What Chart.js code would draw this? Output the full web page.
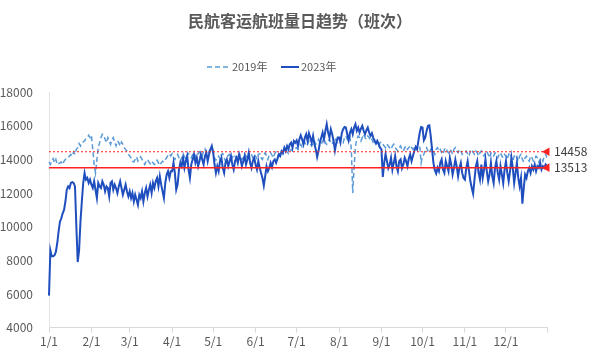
<!DOCTYPE html>
<html><head><meta charset="utf-8">
<script src="https://cdn.jsdelivr.net/npm/chart.js@4"></script>
<style>html,body{margin:0;padding:0;background:#fff}#wrap{width:600px;height:356px}</style>
</head><body><div id="wrap"><canvas id="c" width="600" height="356"></canvas></div>
<script>
const monthDays = [31,28,31,30,31,30,31,31,30,31,30,31];
const categories = [];
monthDays.forEach((n,m)=>{for(let d=1;d<=n;d++)categories.push((m+1)+'/'+d);});

const series2019 = [
// Jan
13850,13700,13900,14050,13800,14000,13700,13750,13800,13850,13700,13900,14000,14100,14150,14200,14300,14200,14450,14300,14600,14700,14940,14800,15000,15040,15100,15240,15300,15440,15300,
// Feb
15440,14600,13700,13200,14000,14700,15000,15300,15500,15440,15200,15000,15300,15100,14900,15200,15300,15000,14800,15100,15000,14800,15040,14900,14700,14600,14500,14300,
// Mar
14200,14100,13900,13850,14000,14150,13900,14000,14150,14000,13850,13700,13900,14000,13850,13750,13900,13800,13700,13750,13950,13800,13650,13800,13900,13850,14000,14100,14250,14340,14200,
// Apr
14340,14100,14000,14200,14300,14100,13900,14100,14300,14200,14000,14250,14350,14200,14100,14300,14400,14200,14100,14350,14450,14300,14200,14500,14640,14400,14300,14500,14600,14700,
// May
14500,14100,13950,14100,14200,14000,14300,14350,14100,13900,14100,14250,14300,14000,14100,14300,14200,13950,14150,14300,14250,14000,14100,14350,14200,14000,14200,14400,14300,14100,14300,
// Jun
14200,14000,14300,14350,14100,14000,14250,14400,14200,14000,14300,14400,14250,14100,14350,14450,14300,14200,14450,14500,14300,14400,14550,14450,14350,14500,14600,14500,14540,14650,
// Jul
14700,14600,14800,14900,14700,14940,15000,14800,14900,15100,14900,14800,15000,15100,14900,15000,15200,15000,14900,15100,15240,15000,14900,15100,15200,15000,14900,15100,15300,15100,15000,
// Aug
15200,15300,15100,15000,15300,15400,15200,15100,15300,14600,12000,13500,14800,15200,15400,15300,15100,15300,15500,15300,15200,15400,15300,15100,15200,15000,14900,15100,14900,14800,15000,
// Sep
15040,14900,14800,14700,14900,14800,14700,14600,14800,14900,14700,14600,14500,14700,14800,14600,14500,14700,14800,14600,14700,14840,14700,14600,14800,14700,14600,14740,14800,13800,
// Oct
14200,14300,14600,14700,14500,14400,14600,14700,14500,14300,14600,14700,14500,14600,14400,14300,14600,14700,14500,14400,14600,14500,14300,14600,14700,14500,14400,14600,14500,14300,14400,
// Nov
14400,14500,14300,14200,14500,14600,14400,14300,14500,14400,14200,14400,14500,14300,14200,14400,14500,14300,14100,14400,14300,14200,14400,14300,14100,14300,14400,14200,14100,14300,
// Dec
14200,14000,14300,14400,14100,13900,14200,14300,14100,13900,14200,14300,14000,13850,14100,14200,14000,13900,14200,14100,13900,14000,14200,14100,13850,14000,14100,13900,14200,14300,14100
];

const series2023 = [
// Jan
5900,8600,8250,8250,8300,8500,9000,9700,10300,10500,10800,11000,11500,12200,12400,12300,12600,12650,12600,12400,10000,7900,8600,10300,11500,12600,13200,12800,12900,12600,12800,
// Feb
12500,12300,12700,12200,11700,12600,12400,12300,12700,12500,12100,12400,12300,11800,12600,12700,12200,12500,12300,12000,12400,12700,12300,11900,12200,12500,12100,11800,
// Mar
12100,11700,12000,11500,11900,11600,11300,11900,11700,12100,11500,12000,12300,11800,12200,12500,12000,12600,12300,12700,12900,12400,13000,12500,12100,11700,12600,13100,13300,12900,13300,
// Apr
13300,13800,13200,12200,12500,13400,13800,13600,14100,13500,13900,14200,13400,12900,13700,14000,14300,13800,14100,13600,13900,14300,14000,13700,14200,14400,13900,14300,14600,14800,
// May
14400,13700,13200,13600,13300,13900,14100,13500,13200,13800,14000,13600,13900,14200,13700,13400,13900,14100,13800,14300,14000,13600,13900,14200,13700,14000,14400,13800,13500,13900,14100,
// Jun
13700,13400,13900,13500,13200,12900,12450,13000,13600,13300,13500,13800,13550,13900,14000,13800,14050,14300,14200,14500,14400,14700,14500,14800,14600,14900,15000,14700,15100,15000,
// Jul
15140,14800,15200,15440,15200,14900,15300,15500,15100,15560,15300,15000,15400,14900,14600,14150,14500,15000,15300,15600,15200,15700,16100,15600,15300,15800,15500,15100,14540,15000,15300,
// Aug
15300,15000,15560,15800,15930,15900,15500,15140,15600,15800,15500,15900,16100,15700,15900,15600,15840,16000,15700,15500,15740,15900,15600,15400,15560,15300,15100,14940,15100,14900,14700,
// Sep
14600,12960,13800,14320,13900,13480,13700,14100,13400,13800,14200,13600,13300,13900,14000,13480,13700,14100,13900,13600,14050,14300,13900,14200,14500,14740,14600,15100,15600,15930,
// Oct
15900,15140,15300,15700,16000,16030,15400,14600,13800,13360,13160,13500,13300,13800,14000,13400,13200,13900,13600,13300,14100,13700,13100,13500,14000,13600,13000,13500,13800,13200,12900,
// Nov
12800,13500,13900,13300,12700,12300,11960,12800,13600,13900,13200,12800,13700,12900,13400,14000,13300,12700,13100,13800,13000,12600,13500,13900,13200,12800,13600,13100,12600,13400,
// Dec
13900,13200,12700,13300,14100,13500,12600,13200,13800,12900,12400,12900,11370,12300,13100,12900,13300,13500,13200,13600,13400,13700,13300,13600,13500,13800,13400,13600,13500,13700,13600
];

const refValues = [14458, 13513];
const yTicks = [4000, 6000, 8000, 10000, 12000, 14000, 16000, 18000];
const seriesNames = ['2019年', '2023年'];
const titleText = '民航客运航班量日趋势（班次）';

const FONT = "'Noto Sans CJK SC', 'Noto Sans', sans-serif";
const lastIdx = categories.length - 1;

const refPlugin = {
  id: 'refLabels',
  afterDatasetsDraw(chart) {
    const ctx = chart.ctx, y = chart.scales.y, area = chart.chartArea;
    ctx.save();
    ctx.font = "12px " + FONT;
    ctx.fillStyle = '#404040';
    ctx.textBaseline = 'middle';
    ctx.textAlign = 'left';
    refValues.forEach(v => ctx.fillText(String(v), area.right + 7, y.getPixelForValue(v)));
    ctx.restore();
  }
};

const legendPlugin = {
  id: 'customLegend',
  afterDraw(chart) {
    const ctx = chart.ctx;
    const ds = chart.data.datasets;
    const yL = 67;
    const items = [{ x: 207, w: 23, d: ds[0] }, { x: 281, w: 18, d: ds[1] }];
    ctx.save();
    ctx.font = "11px " + FONT;
    ctx.textBaseline = 'middle';
    ctx.textAlign = 'left';
    items.forEach(it => {
      ctx.strokeStyle = it.d.borderColor;
      ctx.lineWidth = it.d.borderWidth;
      ctx.setLineDash(it.d.borderDash || []);
      ctx.beginPath(); ctx.moveTo(it.x, yL); ctx.lineTo(it.x + it.w, yL); ctx.stroke();
      ctx.setLineDash([]);
      ctx.fillStyle = '#595959';
      ctx.fillText(it.d.label, it.x + it.w + 2, yL);
    });
    ctx.restore();
  }
};

new Chart(document.getElementById('c'), {
  type: 'line',
  data: {
    labels: categories,
    datasets: [
      { label: seriesNames[0], data: series2019, borderColor: '#5b9bd5', backgroundColor: '#5b9bd5', borderWidth: 1.5, borderDash: [5,3], pointRadius: 0, tension: 0, order: 3 },
      { label: seriesNames[1], data: series2023, borderColor: '#1f4fbf', backgroundColor: '#1f4fbf', borderWidth: 2, pointRadius: 0, tension: 0, order: 2 },
      { label: 'ref1', data: categories.map(() => refValues[0]), borderColor: '#ff2020', backgroundColor: '#ff2020', borderWidth: 1.2, borderDash: [2,2], tension: 0, order: 1, clip: false,
        pointStyle: 'triangle', rotation: -90, pointRadius: ctx => ctx.dataIndex === lastIdx ? 5 : 0, pointBorderWidth: 0 },
      { label: 'ref2', data: categories.map(() => refValues[1]), borderColor: '#ff2020', backgroundColor: '#ff2020', borderWidth: 1.5, tension: 0, order: 1, clip: false,
        pointStyle: 'triangle', rotation: -90, pointRadius: ctx => ctx.dataIndex === lastIdx ? 5 : 0, pointBorderWidth: 0 }
    ]
  },
  options: {
    responsive: false,
    animation: false,
    layout: { padding: { left: 0, right: 0, top: 8, bottom: 5 } },
    plugins: {
      tooltip: { enabled: false },
      legend: { display: false },
      title: { display: true, text: titleText, color: '#595959', font: { family: FONT, size: 16, weight: 'bold' }, padding: { top: 3, bottom: 62 } }
    },
    scales: {
      x: {
        type: 'category', offset: false,
        grid: { display: true, drawOnChartArea: false, drawTicks: true, tickLength: 5,
          color: ctx => { const l = categories[ctx.index]; return (l && l.split('/')[1] === '1') || ctx.index === lastIdx ? '#d9d9d9' : 'rgba(0,0,0,0)'; } },
        border: { display: true, color: '#d9d9d9' },
        ticks: { autoSkip: false, maxRotation: 0, minRotation: 0, padding: 2, color: '#595959', font: { family: FONT, size: 12 },
          callback: function(v, i) { const l = categories[i]; return l.split('/')[1] === '1' ? l : ''; } }
      },
      y: {
        min: 4000, max: 18000,
        afterBuildTicks: s => { s.ticks = yTicks.map(v => ({ value: v })); },
        afterFit: s => { s.width = 49; },
        grid: { display: false },
        border: { display: true, color: '#e3e3e3' },
        ticks: { padding: 8, color: '#595959', font: { family: FONT, size: 12 }, callback: v => String(v) }
      },
      yR: {
        position: 'right', display: true,
        afterFit: s => { s.width = 53; },
        grid: { display: false }, border: { display: false }, ticks: { display: false }
      }
    }
  },
  plugins: [refPlugin, legendPlugin]
});
</script></body></html>
